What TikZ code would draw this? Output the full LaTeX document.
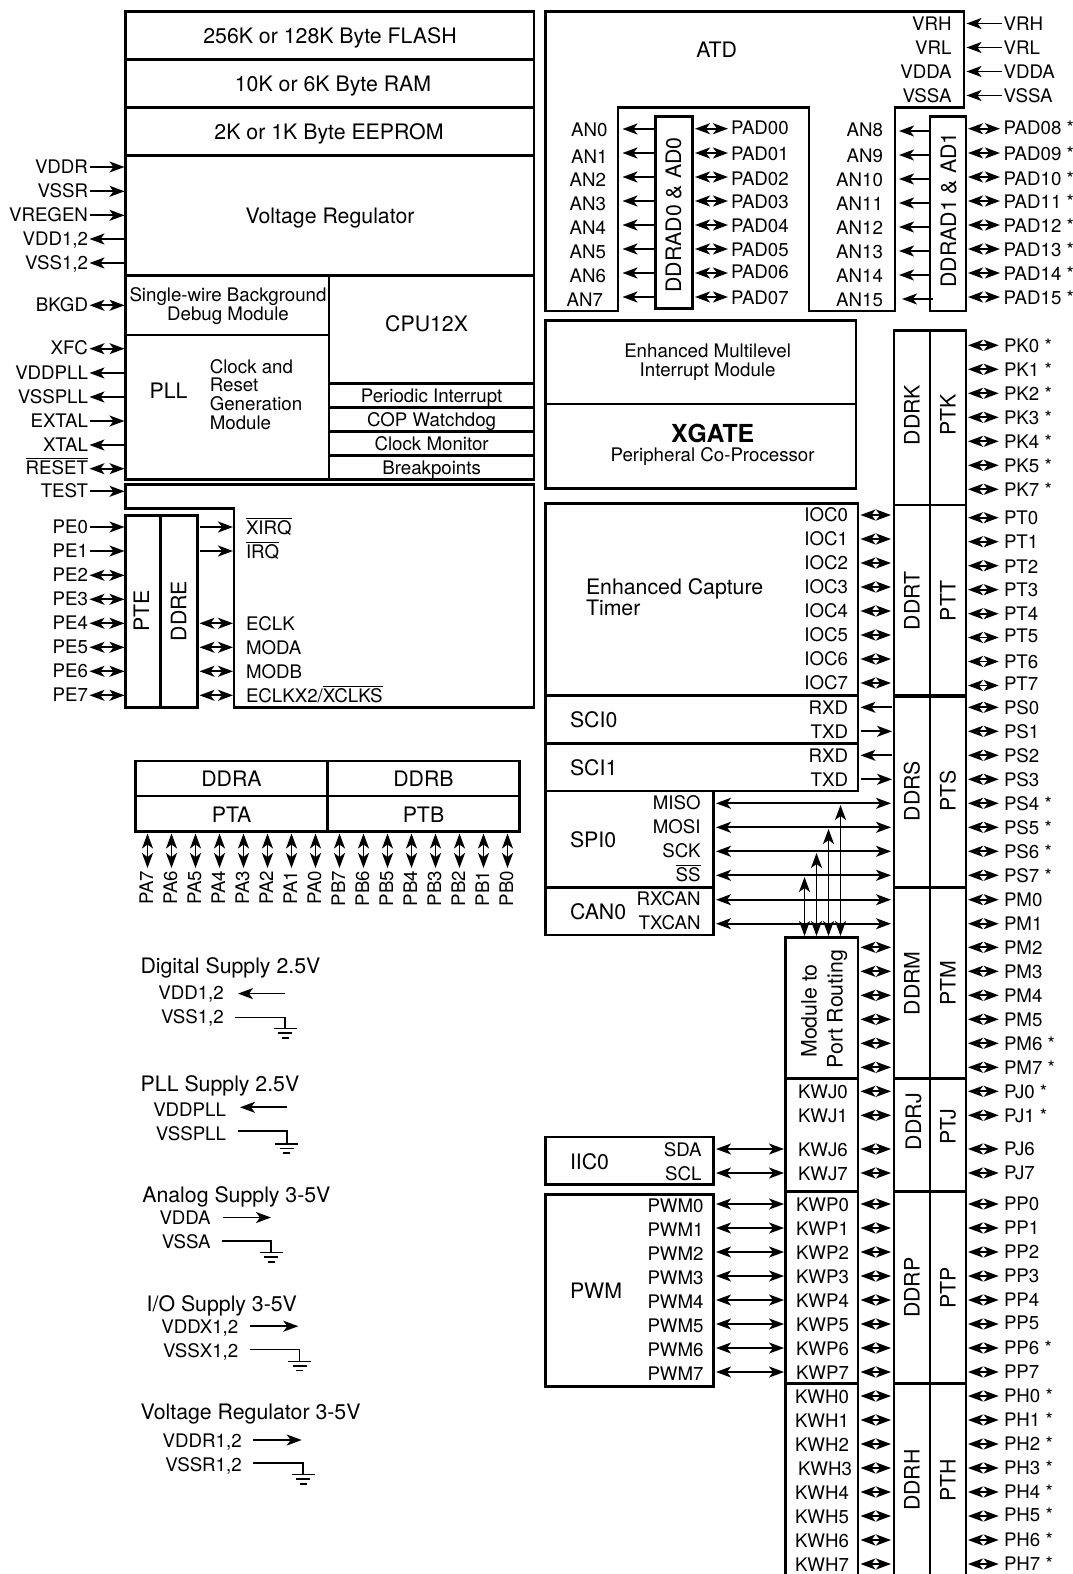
\documentclass[tikz,border=0pt]{standalone}
\usepackage{fontspec}
\setmainfont{TeX Gyre Heros}
\usetikzlibrary{arrows.meta}
\newcommand\ovl[1]{\vbox{\hrule height 1pt\kern1.4pt\hbox{#1}}}
\tikzset{
  blockbox/.style={draw,line width=2.8pt,rectangle,inner sep=0pt,outer sep=0pt},
  outline/.style={draw,line width=2.8pt,line join=miter},
  txt/.style={inner sep=0pt,outer sep=0pt,text=black},
  sm/.style={txt,font=\fontsize{18.7}{19}\selectfont,yshift=-6.7pt},
  bg/.style={txt,font=\fontsize{21.3}{22}\selectfont,yshift=-7.6pt},
  bgv/.style={txt,font=\fontsize{21.3}{22}\selectfont,xshift=7.6pt,rotate=90,anchor=base},
  smv/.style={txt,font=\fontsize{18.7}{19}\selectfont,xshift=6.7pt,rotate=90,anchor=base east},
  cw/.style={anchor=base west},
  ce/.style={anchor=base east},
  cc/.style={anchor=base},
  headt/.tip={Stealth[length=15pt,width=11pt,inset=4pt]},
  wire/.style={line width=1.7pt},
  io/.style={wire,{headt}-{headt}},
  inp/.style={wire,-{headt}},
  outp/.style={wire,{headt}-},
  plain/.style={line width=1.6pt},
}
\newcommand\blk[5]{\node[blockbox,minimum width={(#4-#2)*1pt},minimum height={(#5-#3)*1pt}] (#1) at ({(#2+#4)/2},{(#3+#5)/2}) {};}
\newcommand\wireH[5]{\coordinate (#2-a) at (#3,#5); \coordinate (#2-b) at (#4,#5); \draw[#1] (#2-a) -- (#2-b);}
\newcommand\wireV[5]{\coordinate (#2-a) at (#5,#3); \coordinate (#2-b) at (#5,#4); \draw[#1] (#2-a) -- (#2-b);}
\newcommand\gnd[5]{% name, x0, y0, x1, y1
  \coordinate (#1-s) at (#2,#3); \coordinate (#1-g) at (#4,#5);
  \draw[plain] (#1-s) -| (#1-g);
  \draw[plain] ([xshift=-11.5pt]#1-g) -- ([xshift=11.5pt]#1-g);
  \draw[plain] ([xshift=-7pt,yshift=-4.6pt]#1-g) -- ([xshift=7pt,yshift=-4.6pt]#1-g);
  \draw[plain] ([xshift=-3.5pt,yshift=-9.2pt]#1-g) -- ([xshift=3.5pt,yshift=-9.2pt]#1-g);}
\begin{document}
\begin{tikzpicture}[x=1pt,y=-1pt]
\useasboundingbox (0,0) rectangle (1073,1574);
%%% left column
\blk{flash}{125.5}{11.7}{534}{59.3}
\blk{ram}{125.5}{59.3}{534}{107.3}
\blk{eeprom}{125.5}{107.3}{534}{155.3}
\blk{vreg}{125.5}{155.3}{534}{275.3}
\blk{bdm}{125.5}{275.3}{329}{335}
\blk{pll}{125.5}{335}{329}{479.3}
\blk{cpu}{329}{275.3}{534}{383.3}
\blk{pit}{329}{383.3}{534}{407.3}
\blk{cop}{329}{407.3}{534}{431.3}
\blk{cm}{329}{431.3}{534}{455.3}
\blk{bp}{329}{455.3}{534}{479.3}
\draw[outline] (125.5,484.3) -- (534,484.3) -- (534,707.7) -- (234,707.7) -- (234,508.3) -- (125.5,508.3) -- cycle;
\blk{pte}{125.5}{515.7}{160.6}{707.7}
\blk{ddre}{160.6}{515.7}{197.7}{707.7}
\node[bg,cc] (tflash) at (330,35.8) {256K or 128K Byte FLASH};
\node[bg,cc] (tram) at (333,83.8) {10K or 6K Byte RAM};
\node[bg,cc] (teeprom) at (329,131.8) {2K or 1K Byte EEPROM};
\node[bg,cc] (tvreg) at (330,215.7) {Voltage Regulator};
\node[sm,cc] (tbdma) at (228,295) {Single-wire Background};
\node[sm,cc] (tbdmb) at (228,314) {Debug Module};
\node[bg,cc] (tcpu) at (426.6,323.7) {CPU12X};
\node[bg,cc] (tpll) at (168.6,391.3) {PLL};
\node[sm,cw] (tcra) at (209.8,366.7) {Clock and};
\node[sm,cw] (tcrb) at (209.8,385) {Reset};
\node[sm,cw] (tcrc) at (209.8,404) {Generation};
\node[sm,cw] (tcrd) at (209.8,422.7) {Module};
\node[sm,cc] (tpit) at (431.6,395.7) {Periodic Interrupt};
\node[sm,cc] (tcop) at (431.6,419.7) {COP Watchdog};
\node[sm,cc] (tcm) at (431.6,443.7) {Clock Monitor};
\node[sm,cc] (tbp) at (431.6,467.7) {Breakpoints};
\node[bgv] (tpte) at (141.5,611) {PTE};
\node[bgv] (tddre) at (178.7,611) {DDRE};
% left pins
\foreach \n/\t/\y/\s in {
  VDDR/VDDR/167/inp, VSSR/VSSR/191.3/inp, VREGEN/VREGEN/215.3/inp,
  VDDa/{VDD1,2}/239/outp, VSSa/{VSS1,2}/263/outp,
  BKGD/BKGD/305.3/io, XFC/XFC/348.7/io, VDDPLL/VDDPLL/373/outp, VSSPLL/VSSPLL/397/outp,
  EXTAL/EXTAL/421/inp, XTAL/XTAL/445/outp, RESET/\ovl{RESET}/468.7/io, TEST/TEST/491.3/inp,
  PE0/PE0/527/inp, PE1/PE1/551/inp, PE2/PE2/575.3/io, PE3/PE3/599.3/io,
  PE4/PE4/623.3/io, PE5/PE5/647.3/io, PE6/PE6/671.3/io, PE7/PE7/695.3/io}{
  \node[sm,ce] (\n) at (88,\y-0.7) {\t};
  \wireH{\s}{w\n}{89.5}{124.5}{\y}
}
\foreach \n/\t/\y/\s in {
  XIRQ/\ovl{XIRQ}/527/inp, IRQ/\ovl{IRQ}/551/inp, ECLK/ECLK/623.3/io, MODA/MODA/647.3/io,
  MODB/MODB/671.3/io, ECLKXb/ECLKX2\slash\ovl{XCLKS}/695.3/io}{
  \node[sm,cw] (\n) at (246,\y+0.4) {\t};
  \wireH{\s}{w\n}{199.5}{233}{\y}
}
%%% PTA / PTB
\blk{ddra}{135.5}{761}{327.5}{796}
\blk{ddrb}{327.5}{761}{519.8}{796}
\blk{pta}{135.5}{796}{327.5}{831.7}
\blk{ptb}{327.5}{796}{519.8}{831.7}
\node[bg,cc] (tddra) at (231.5,779) {DDRA};
\node[bg,cc] (tddrb) at (423.5,779) {DDRB};
\node[bg,cc] (tpta) at (231.5,815) {PTA};
\node[bg,cc] (tptb) at (423.5,815) {PTB};
\foreach \n/\x in {PA7/147.5,PA6/171.5,PA5/195.5,PA4/219.5,PA3/243.5,PA2/267.5,PA1/291.5,PA0/315.5,
                   PB7/339.5,PB6/363.5,PB5/387.5,PB4/411.5,PB3/435.5,PB2/459.5,PB1/483.5,PB0/507.5}{
  \wireV{io}{w\n}{833.5}{868}{\x}
  \node[smv] (\n) at (\x-1,870.7) {\n};
}
%%% ATD
\draw[outline] (545.5,11.7) -- (964,11.7) -- (964,107.3) -- (895,107.3) -- (895,311) -- (809,311) -- (809,107.3) -- (618,107.3) -- (618,311) -- (545.5,311) -- cycle;
\blk{ad0}{655.5}{116.7}{692.5}{308.3}
\blk{ad1}{930}{116.7}{966}{311}
\node[bg,cc] (tatd) at (716.6,49.5) {ATD};
\node[bgv] (tad0) at (673.5,215) {DDRAD0 \& AD0};
\node[bgv] (tad1) at (948.5,210) {DDRAD1 \& AD1};
\foreach \n/\y in {VRH/23.5,VRL/47.5,VDDA/71.5,VSSA/95.5}{
  \node[sm,ce] (i\n) at (951.5,\y) {\n};
  \node[sm,cw] (\n) at (1003.7,\y) {\n};
  \wireH{outp}{w\n}{966.5}{1001.5}{\y}
}
\foreach \n/\ax/\ly/\wy in {
  AN0/607.5/129.3/129, AN1/607.5/156.7/153, AN2/606/179.7/177, AN3/606/203.3/201,
  AN4/606/227.7/225, AN5/606/251.7/249, AN6/606/275.7/273, AN7/603/299.3/297}{
  \node[sm,ce] (\n) at (\ax,\ly) {\n};
  \wireH{outp}{w\n}{622.5}{655.5}{\wy}
}
\foreach \n/\ly/\wy/\xa/\xb in {
  AN8/129.7/131/899/930, AN9/155.7/155/899/930, AN10/180/179/899/930, AN11/204/203/899/930,
  AN12/228/227/899/930, AN13/252/251/899/930, AN14/276/275/899/930, AN15/300/299/902/933}{
  \node[sm,ce] (\n) at (883,\ly) {\n};
  \wireH{outp}{w\n}{\xa}{\xb}{\wy}
}
\foreach \n/\ly/\wy in {
  PAD00/127.7/128.7, PAD01/153.7/153, PAD02/178.7/177, PAD03/201.7/201,
  PAD04/225.7/225, PAD05/249.7/249, PAD06/271.7/273, PAD07/297.3/297}{
  \node[sm,cw] (\n) at (731,\ly) {\n};
  \wireH{io}{w\n}{695}{728}{\wy}
}
\foreach \n/\ly/\wy in {
  PAD08/127.3/128.7, PAD09/153.7/153, PAD10/178.7/177, PAD11/201.7/201,
  PAD12/225.7/225, PAD13/249.7/249, PAD14/273.7/273, PAD15/297.3/297}{
  \node[sm,cw] (\n) at (1003.7,\ly) {\n\ *};
  \wireH{io}{w\n}{968}{1000}{\wy}
}
%%% interrupt / xgate
\blk{imod}{545.5}{320.7}{856}{404}
\blk{xgate}{545.5}{404}{856}{488.7}
\node[sm,cc] (timoda) at (707.6,350.7) {Enhanced Multilevel};
\node[sm,cc] (timodb) at (707.6,370) {Interrupt Module};
\node[txt,cc,yshift=-8.9pt,font=\fontsize{24.8}{25}\selectfont\bfseries] (txgate) at (712.6,433.3) {XGATE};
\node[sm,cc] (tcopr) at (712.6,454.7) {Peripheral Co-Processor};
%%% timers and comms
\blk{ect}{545.5}{503.3}{858}{695.3}
\blk{sci0}{545.5}{695.3}{858}{743.3}
\blk{sci1}{545.5}{743.3}{858}{791}
\blk{spi0}{545.5}{791}{713.6}{887.3}
\blk{can0}{545.5}{887.3}{713.6}{935}
\blk{iic0}{545.5}{1137}{713.6}{1184.7}
\blk{pwm}{545.5}{1194.7}{713.6}{1386.3}
\blk{routing}{785.5}{937.3}{858}{1078.3}
\blk{kwj}{785.5}{1078.3}{858}{1191.7}
\blk{kwp}{785.5}{1191.7}{858}{1383.3}
\draw[outline] (785.5,1574) -- (785.5,1383.3) -- (858,1383.3) -- (858,1574);
\node[bg,cw] (tecta) at (586,587) {Enhanced Capture};
\node[bg,cw] (tectb) at (586,608) {Timer};
\node[bg,cw] (tsci0) at (570,720) {SCI0};
\node[bg,cw] (tsci1) at (570,768) {SCI1};
\node[bg,cw] (tspi0) at (570,840) {SPI0};
\node[bg,cw] (tcan0) at (570,912) {CAN0};
\node[bg,cw] (tiic0) at (570,1161.7) {IIC0};
\node[bg,cw] (tpwm) at (570,1290.7) {PWM};
\node[bgv] (trouta) at (809,1011) {Module to};
\node[bgv] (troutb) at (835,1009) {Port Routing};
%%% port columns
\blk{ddrk}{894}{330.7}{930}{505}
\blk{ptk}{930}{330.7}{966}{505}
\blk{ddrt}{894}{505}{930}{695}
\blk{ptt}{930}{505}{966}{695}
\blk{ddrs}{894}{696.5}{930}{887.3}
\blk{pts}{930}{696.5}{966}{887.3}
\blk{ddrm}{894}{887.3}{930}{1078.3}
\blk{ptm}{930}{887.3}{966}{1078.3}
\blk{ddrj}{894}{1078.3}{930}{1191.7}
\blk{ptj}{930}{1078.3}{966}{1191.7}
\blk{ddrp}{894}{1191.7}{930}{1383.3}
\blk{ptp}{930}{1191.7}{966}{1383.3}
\draw[outline] (894,1574) -- (894,1383.3) -- (966,1383.3) -- (966,1574);
\draw[outline] (930,1383.3) -- (930,1574);
\foreach \n/\x/\y in {DDRK/912/415,PTK/948/415,DDRT/912/601,PTT/948/601,DDRS/912/791,PTS/948/791,
   DDRM/912/983.3,PTM/948/983.3,DDRJ/913.5/1121.7,PTJ/948/1126.7,DDRP/912/1287.7,PTP/948/1287.7,DDRH/912/1480,PTH/948/1480}{
  \node[bgv] (t\n) at (\x,\y) {\n};
}
% right-hand pins
\foreach \n/\t/\y/\d in {
  PK0/PK0 */345.3/0, PK1/PK1 */369.3/0, PK2/PK2 */393.3/0, PK3/PK3 */417.3/0, PK4/PK4 */441.3/0, PK5/PK5 */465.3/0, PK7/PK7 */489.3/0,
  PT0/PT0/517.7/0, PT1/PT1/541.7/0, PT2/PT2/565.7/1.5, PT3/PT3/589.7/0, PT4/PT4/613.7/0, PT5/PT5/637.5/-1.5, PT6/PT6/661.5/0, PT7/PT7/685.5/-1.5,
  PS0/PS0/707.3/0, PS1/PS1/731.3/0, PS2/PS2/755.3/0, PS3/PS3/779.3/0, PS4/PS4 */803.3/0, PS5/PS5 */827.3/0, PS6/PS6 */851.3/0, PS7/PS7 */875.3/0,
  PM0/PM0/899.7/0, PM1/PM1/923.7/0, PM2/PM2/947.3/0, PM3/PM3/971.3/0, PM4/PM4/995.3/0, PM5/PM5/1019.3/0, PM6/PM6 */1043.3/0, PM7/PM7 */1067.3/0,
  PJ0/PJ0 */1091.3/0, PJ1/PJ1 */1115.3/0, PJ6/PJ6/1149/0, PJ7/PJ7/1173/0,
  PP0/PP0/1204/0, PP1/PP1/1228/0, PP2/PP2/1252/0, PP3/PP3/1276/0, PP4/PP4/1300/0, PP5/PP5/1324/-1.5, PP6/PP6 */1348/0, PP7/PP7/1372/0,
  PH0/PH0 */1396/0, PH1/PH1 */1420/0, PH2/PH2 */1444/0, PH3/PH3 */1468/0, PH4/PH4 */1492/0, PH5/PH5 */1516/-1.5, PH6/PH6 */1540/0, PH7/PH7 */1564/0}{
  \node[sm,cw] (\n) at (1004,\y+\d) {\t};
  \wireH{io}{w\n}{968}{998.7}{\y}
}
% routing to DDR columns
\foreach \n/\y/\s in {
  IOC0/515/io, IOC1/539/io, IOC2/563/io, IOC3/587/io, IOC4/611/io, IOC5/635/io, IOC6/659/io, IOC7/683/io}{
  \node[sm,ce] (\n) at (848,\y) {\n};
  \wireH{\s}{w\n}{860.5}{891}{\y}
}
\foreach \n/\t/\y/\s in {RXDa/RXD/707.3/outp, TXDa/TXD/731.3/inp, RXDb/RXD/755.3/outp, TXDb/TXD/779.3/inp}{
  \node[sm,ce] (\n) at (848,\y+0.4) {\t};
  \wireH{\s}{w\n}{860.5}{892}{\y}
}
\foreach \n/\t/\y in {MISO/MISO/803.3, MOSI/MOSI/827.3, SCK/SCK/851.3, SS/\ovl{SS}/875.3, RXCAN/RXCAN/899.7, TXCAN/TXCAN/923.7}{
  \node[sm,ce] (\n) at (700.6,\y-1) {\t};
  \wireH{io}{w\n}{716}{891}{\y}
}
\foreach \n/\x/\y in {a/804.5/877, b/816.5/853, c/828.5/829, d/840.5/805}{
  \wireV{io}{vr\n}{\y}{936}{\x}
}
\foreach \n/\y in {A/947.3, B/971.3, C/995.3, D/1019.3, E/1043.3, F/1067.3}{
  \wireH{io}{wr\n}{860.5}{891}{\y}
}
\foreach \n/\y/\x in {KWJ0/1091.3/798, KWJ1/1115.3/798, KWJ6/1149/798, KWJ7/1173/798,
  KWP0/1204/796, KWP1/1228/796, KWP2/1252/796, KWP3/1276/796, KWP4/1300/796, KWP5/1324/796, KWP6/1348/796, KWP7/1372/796,
  KWH0/1396/795, KWH1/1420/795, KWH2/1444/795, KWH3/1468/798, KWH4/1492/795, KWH5/1516/795, KWH6/1540/795, KWH7/1564/795}{
  \node[sm,cw] (\n) at (\x,\y+0.4) {\n};
  \wireH{io}{w\n}{860.5}{891}{\y}
}
\foreach \n/\y in {SDA/1149, SCL/1173}{
  \node[sm,ce] (\n) at (701.6,\y+0.4) {\n};
  \wireH{io}{w\n}{716}{784}{\y}
}
\foreach \n/\y in {PWM0/1204, PWM1/1228, PWM2/1252, PWM3/1276, PWM4/1300, PWM5/1324, PWM6/1348, PWM7/1372}{
  \node[sm,ce] (\n) at (703.6,\y+2) {\n};
  \wireH{io}{w\n}{716}{784}{\y}
}
%%% supply legend
\node[bg,cw] (lga) at (140.5,965.6) {Digital Supply 2.5V};
\node[sm,ce] (lgav) at (223.8,992.7) {VDD1,2};
\node[sm,ce] (lgag) at (223.8,1016.7) {VSS1,2};
\wireH{outp}{lgaw}{238}{285}{993.6}
\gnd{lgae}{235}{1017.5}{285}{1028.6}
\node[bg,cw] (lgb) at (140.7,1084) {PLL Supply 2.5V};
\node[sm,ce] (lgbv) at (226,1110) {VDDPLL};
\node[sm,ce] (lgbg) at (226,1133.7) {VSSPLL};
\wireH{outp}{lgbw}{240}{286.7}{1107.3}
\gnd{lgbe}{238.3}{1131.2}{286.7}{1143.9}
\node[bg,cw] (lgc) at (142.3,1194.6) {Analog Supply 3-5V};
\node[sm,ce] (lgcv) at (210.7,1218.2) {VDDA};
\node[sm,ce] (lgcg) at (210.7,1241.8) {VSSA};
\wireH{inp}{lgcw}{223.3}{271}{1217.5}
\gnd{lgce}{221.7}{1241}{271}{1252.6}
\node[bg,cw] (lgd) at (146.7,1303.4) {I/O Supply 3-5V};
\node[sm,ce] (lgdv) at (238.3,1327) {VDDX1,2};
\node[sm,ce] (lgdg) at (238.3,1350.5) {VSSX1,2};
\wireH{inp}{lgdw}{250}{298.3}{1326.2}
\gnd{lgde}{250}{1349.4}{299.5}{1361.4}
\node[bg,cw] (lge) at (140.7,1412) {Voltage Regulator 3-5V};
\node[sm,ce] (lgev) at (241.7,1441) {VDDR1,2};
\node[sm,ce] (lgeg) at (241.7,1464.3) {VSSR1,2};
\wireH{inp}{lgew}{253.3}{301.7}{1440}
\gnd{lgee}{253.3}{1463.2}{303}{1474.5}
\end{tikzpicture}
\end{document}
